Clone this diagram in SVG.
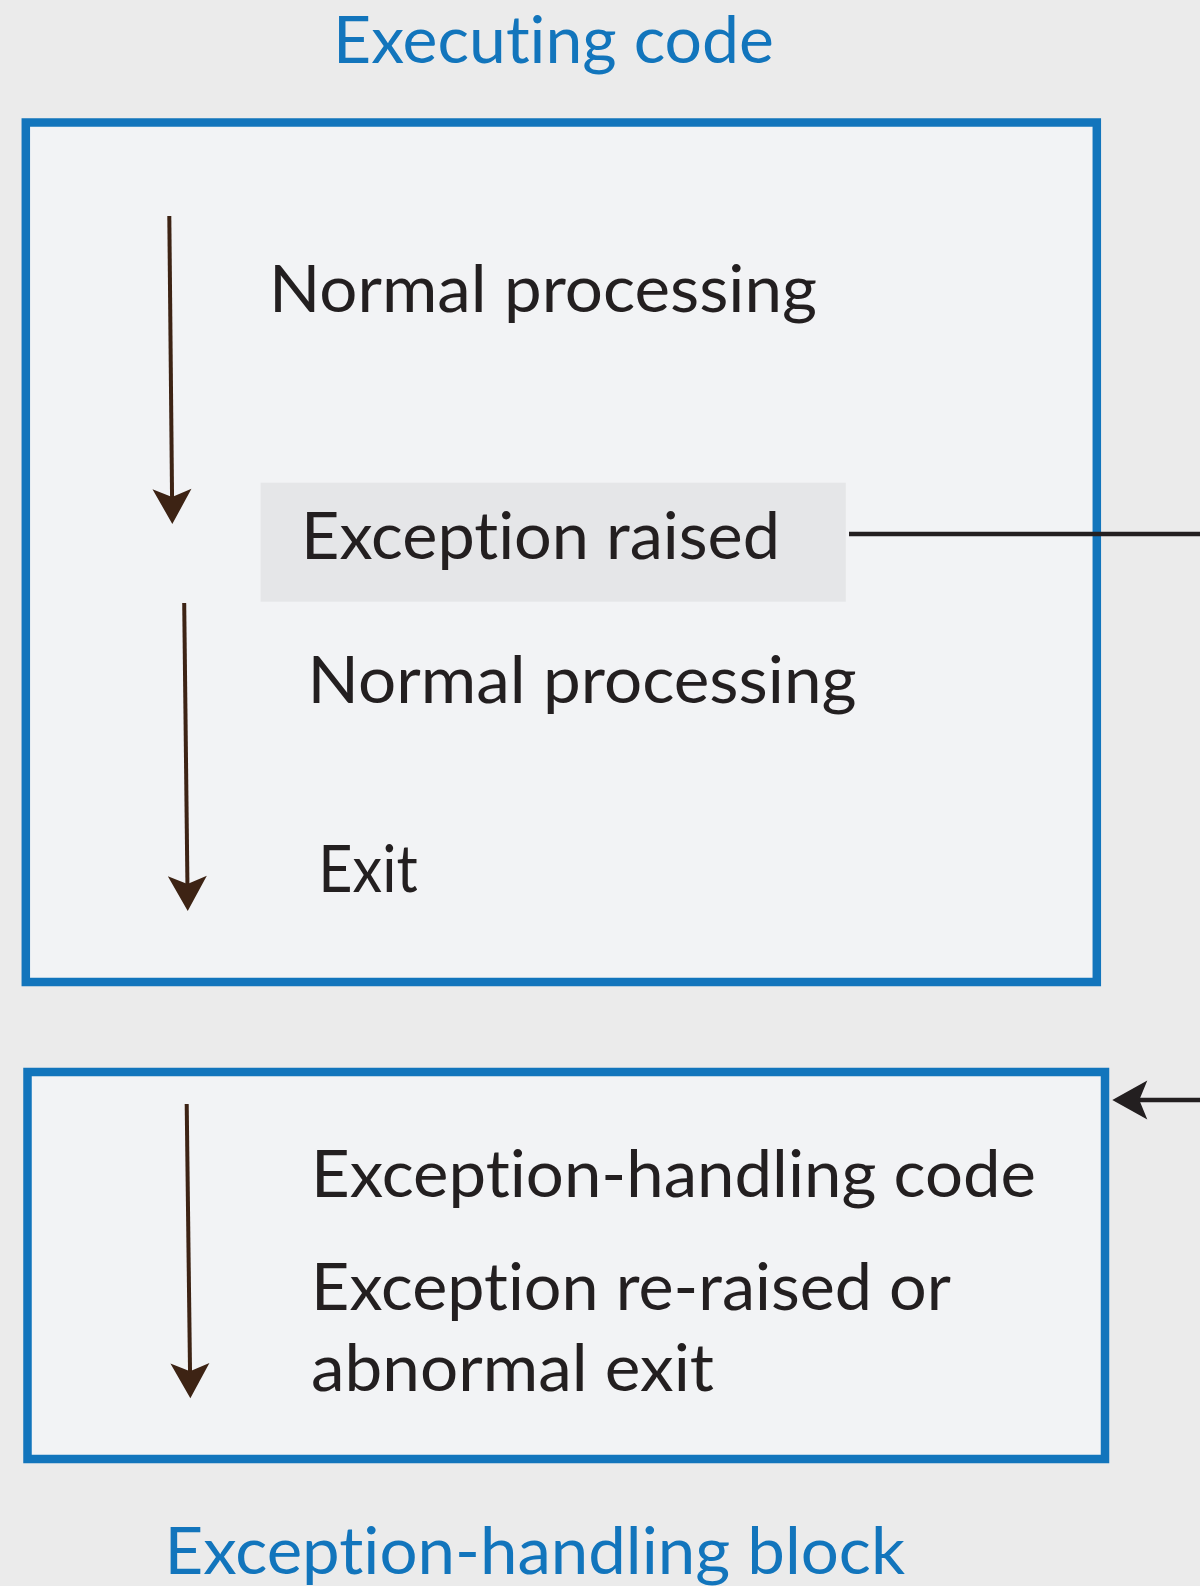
<svg xmlns="http://www.w3.org/2000/svg" width="1200" height="1586" viewBox="0 0 1200 1586">
<style>
.bg{fill:#ebebeb}
.box{fill:#f2f3f5;stroke:#1275bc;stroke-width:8.5}
.hl{fill:#e5e6e8}
.t{font-family:Lato,"Open Sans","Liberation Sans",sans-serif;font-size:66px;fill:#231f20;font-variant-ligatures:none;font-feature-settings:"liga" 0}
.title{font-family:Lato,"Open Sans","Liberation Sans",sans-serif;font-size:66px;fill:#1275bc;font-variant-ligatures:none;font-feature-settings:"liga" 0}
.flow{stroke:#3d2314;stroke-width:4;fill:none}
.link{stroke:#231f20;stroke-width:4.5;fill:none}
</style>
<defs>
<marker id="ab" viewBox="-36 -21 38 42" markerWidth="38" markerHeight="42" refX="-12" refY="0" orient="auto" markerUnits="userSpaceOnUse">
<path d="M0,0 L-35,-19.5 L-27,0 L-35,19.5 Z" fill="#3d2314"/>
</marker>
<marker id="ak" viewBox="-36 -21 38 42" markerWidth="38" markerHeight="42" refX="-12" refY="0" orient="auto" markerUnits="userSpaceOnUse">
<path d="M0,0 L-35,-19.5 L-27,0 L-35,19.5 Z" fill="#231f20"/>
</marker>
</defs>
<rect class="bg" x="0" y="0" width="1200" height="1586"/>
<g id="title-executing">
<text class="title" x="333" y="63" textLength="441" lengthAdjust="spacingAndGlyphs">Executing code</text>
</g>
<g id="executing-code">
<rect class="box" x="25.8" y="122.5" width="1071" height="859.5"/>
<text class="t" x="269" y="311.5" textLength="548" lengthAdjust="spacingAndGlyphs">Normal processing</text>
<g id="exception-raised">
<rect class="hl" x="260.6" y="482.7" width="585.2" height="119"/>
<text class="t" x="301" y="559.3" textLength="479" lengthAdjust="spacingAndGlyphs">Exception raised</text>
</g>
<text class="t" x="307.6" y="702.7" textLength="549" lengthAdjust="spacingAndGlyphs">Normal processing</text>
<text class="t" x="318.3" y="891.7" textLength="99.4" lengthAdjust="spacingAndGlyphs">Exit</text>
</g>
<g id="exception-handling">
<rect class="box" x="27.5" y="1072" width="1077.5" height="387"/>
<text class="t" x="311" y="1197.3" textLength="725" lengthAdjust="spacingAndGlyphs">Exception-handling code</text>
<text class="t" x="311" y="1310" textLength="640" lengthAdjust="spacingAndGlyphs">Exception re-raised or</text>
<text class="t" x="311" y="1390.7" textLength="403" lengthAdjust="spacingAndGlyphs">abnormal exit</text>
</g>
<g id="title-handling">
<text class="title" x="164.5" y="1574.3" textLength="740.5" lengthAdjust="spacingAndGlyphs">Exception-handling block</text>
</g>
<g id="connectors">
<line class="flow" x1="169.3" y1="216" x2="172.2" y2="512" marker-end="url(#ab)"/>
<line class="flow" x1="184.2" y1="603" x2="187.6" y2="899" marker-end="url(#ab)"/>
<line class="flow" x1="186.7" y1="1104" x2="190.2" y2="1386.3" marker-end="url(#ab)"/>
<line class="link" x1="849" y1="534" x2="1200" y2="534"/>
<line class="link" x1="1200" y1="1100" x2="1124.3" y2="1100" marker-end="url(#ak)"/>
</g>
</svg>
